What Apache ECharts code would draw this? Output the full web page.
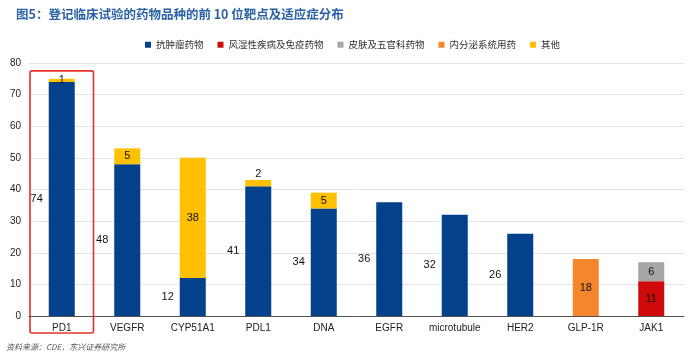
<!DOCTYPE html>
<html><head><meta charset="utf-8">
<script src="https://cdn.jsdelivr.net/npm/echarts@6/dist/echarts.min.js"></script>
<style>html,body{margin:0;padding:0;background:#fff}#c{width:700px;height:362px}</style>
</head><body><div id="c"></div>
<script>
var categories = ['PD1','VEGFR','CYP51A1','PDL1','DNA','EGFR','microtubule','HER2','GLP-1R','JAK1'];
var seriesNames = ['抗肿瘤药物','风湿性疾病及免疫药物','皮肤及五官科药物','内分泌系统用药','其他'];
var antiTumor = [74,48,12,41,34,36,32,26,null,null];
var rheumImmune = [null,null,null,null,null,null,null,null,null,11];
var dermEnt = [null,null,null,null,null,null,null,null,null,6];
var endocrine = [null,null,null,null,null,null,null,null,18,null];
var others = [1,5,38,2,5,null,null,null,null,null];
var yTicks = [0,10,20,30,40,50,60,70,80];
var colors = ['#03428A','#D00A0A','#A6A6A6','#F5862E','#FFC000'];

var chart = echarts.init(document.getElementById('c'));
var labelBase = {show:true, color:'#111', fontSize:11, fontFamily:'Liberation Sans, Arial'};
function mk(i, data, lbl){
  return {name:seriesNames[i], type:'bar', stack:'s', data:data, barWidth:26,
    itemStyle:{color:colors[i]}, label:Object.assign({}, labelBase, lbl||{position:'inside'})};
}
var othersData = others.map(function(v, i){
  if (v === 2) return {value:v, label:{position:'top', distance:1}};
  return v;
});
chart.setOption({
  animation:false,
  title:{text:'图5：登记临床试验的药物品种的前 10 位靶点及适应症分布', left:11, top:3,
    textStyle:{color:'#2B62A6', fontSize:12.5, fontWeight:'bold', fontFamily:'Noto Sans CJK SC'}},
  legend:{top:35, left:140, itemWidth:6, itemHeight:6, itemGap:14, icon:'rect',
    textStyle:{fontSize:9.5, color:'#333', fontFamily:'Noto Sans CJK SC'}, data:seriesNames},
  grid:{left:29, right:16, top:63, bottom:46},
  xAxis:{type:'category', data:categories,
    axisLine:{lineStyle:{color:'#555'}}, axisTick:{show:false},
    axisLabel:{color:'#222', fontSize:10, fontFamily:'Liberation Sans, Arial', margin:7, interval:0}},
  yAxis:{type:'value', min:yTicks[0], max:yTicks[yTicks.length-1], interval:10,
    axisLine:{show:false}, axisTick:{show:false},
    axisLabel:{color:'#222', fontSize:10, fontFamily:'Liberation Sans, Arial', margin:8},
    splitLine:{lineStyle:{color:'#E3E3E3'}}},
  series:[
    mk(0, antiTumor, {position:'left', distance:6}),
    mk(1, rheumImmune),
    mk(2, dermEnt),
    mk(3, endocrine),
    mk(4, othersData)
  ]
});
// red highlight box around PD1
var c0 = chart.convertToPixel({xAxisIndex:0, yAxisIndex:0}, ['PD1', 0]);
var c1 = chart.convertToPixel({xAxisIndex:0, yAxisIndex:0}, ['VEGFR', 0]);
var topY = chart.convertToPixel({yAxisIndex:0}, 77.5);
var step = c1[0] - c0[0];
chart.setOption({graphic:[
  {type:'rect', shape:{x:c0[0]-step/2+1, y:topY, width:step-2, height:c0[1]+17-topY, r:2},
   style:{fill:'none', stroke:'#E8302A', lineWidth:1.6}},
  {type:'text', left:6, top:343, style:{text:'资料来源：CDE，东兴证券研究所', fill:'#555',
   font:'italic 8px "Noto Sans CJK SC"'}}
]});
</script></body></html>
